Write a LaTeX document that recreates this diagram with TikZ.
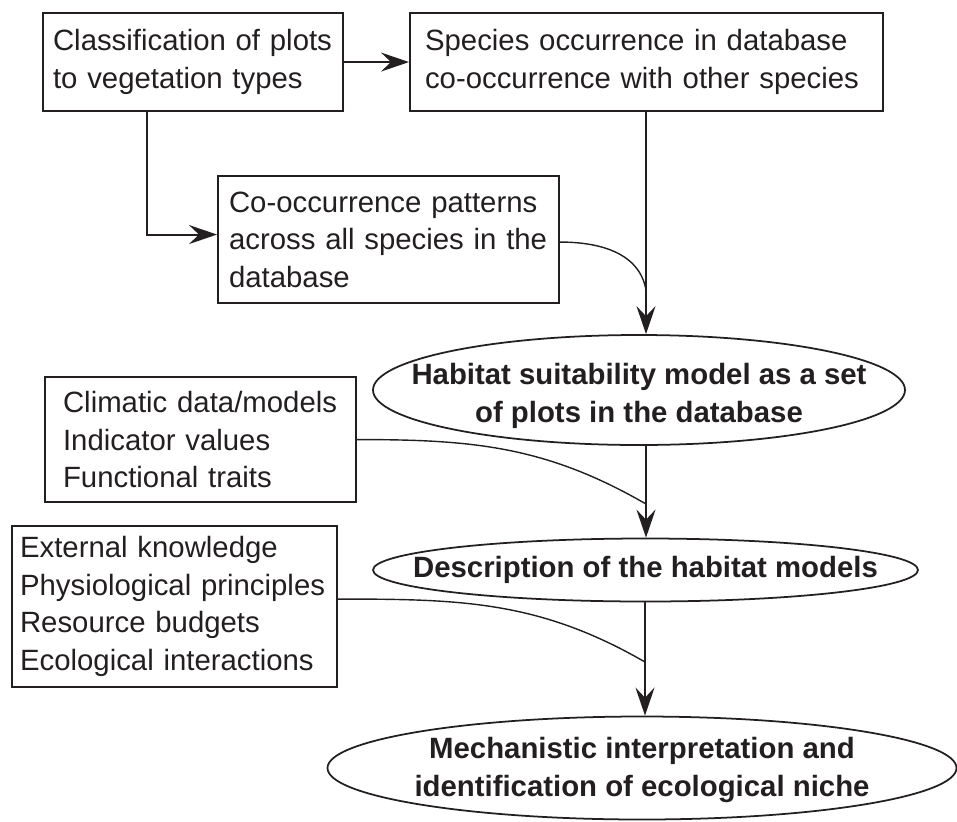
\documentclass[tikz,border=0pt]{standalone}
\usepackage{fontspec}
\setmainfont{Liberation Sans}
\usetikzlibrary{shapes.geometric, arrows.meta, positioning}
\definecolor{inkgray}{HTML}{231F20}

\tikzset{
  infobox/.style={draw=inkgray, line width=1.2pt, anchor=north west, align=left,
    font=\fontsize{16.7pt}{21.4pt}\selectfont, text=inkgray, inner ysep=0pt},
  modelell/.style={draw=inkgray, ellipse, line width=1pt, inner sep=0pt},
  modeltext/.style={align=center, inner sep=0pt, text=inkgray,
    font=\fontsize{16.7pt}{21.4pt}\selectfont\bfseries},
  flowarrow/.style={draw=inkgray, line width=1.2pt, -{Stealth[length=0.56cm, width=0.38cm, inset=0.2cm]}},
  feedline/.style={draw=inkgray, line width=0.8pt}
}

\begin{document}
\begin{tikzpicture}
\useasboundingbox (0,0) rectangle (19.14,-16.42);

% Input boxes
\node[infobox, inner xsep=0.2cm, text width=5.6cm, minimum height=1.96cm] (classif) at (0.84,-0.24)
  {Classification of plots\\to vegetation types};
\node[infobox, inner xsep=0.3cm, text width=8.86cm, minimum height=1.96cm] (occur) at (8.18,-0.24)
  {Species occurrence in database\\co-occurrence with other species};
\node[infobox, inner xsep=0.22cm, text width=6.38cm, minimum height=2.54cm] (cooc) at (4.34,-3.5)
  {Co-occurrence patterns\\across all species in the\\database};
\node[infobox, inner xsep=0.36cm, text width=5.5cm, minimum height=2.5cm] (climate) at (0.88,-7.52)
  {Climatic data/models\\Indicator values\\Functional traits};
\node[infobox, inner xsep=0.16cm, text width=6.18cm, minimum height=3.22cm] (external) at (0.22,-10.5)
  {External knowledge\\Physiological principles\\Resource budgets\\Ecological interactions};

% Model stages
\node[modelell, minimum width=10.64cm, minimum height=2.2cm] (habitat) at (12.78,-7.8) {};
\node[modeltext] (habitat-txt) at (12.78,-7.92) {Habitat suitability model as a set\\of plots in the database};
\node[modelell, minimum width=10.9cm, minimum height=1.26cm] (descr) at (12.91,-11.4) {};
\node[modeltext] (descr-txt) at (descr) {Description of the habitat models};
\node[modelell, minimum width=12.58cm, minimum height=2.06cm] (mech) at (12.84,-15.36) {};
\node[modeltext] (mech-txt) at (12.84,-15.4) {Mechanistic interpretation and\\identification of ecological niche};

% Junctions on the vertical arrows
\coordinate (join1) at (12.92,-5.8);
\coordinate (join2) at (12.92,-10.08);
\coordinate (join3) at (12.9,-13.24);

% Arrows
\draw[flowarrow] (classif) -- (occur);
\draw[flowarrow] ([xshift=-0.92cm]classif.south) |- ([yshift=0.1cm]cooc.west);
\draw[flowarrow] (occur.south -| join1) -- (join1 |- habitat.north);
\draw[flowarrow] (habitat.south -| join2) -- (join2 |- descr.north);
\draw[flowarrow] (descr.south -| join3) -- (join3 |- mech.north);

% Curved feeds
\draw[feedline] ([yshift=-0.05cm]cooc.east) to[out=0, in=100] (join1);
\draw[feedline] (climate.east) to[out=0, in=150] (join2);
\draw[feedline] ([yshift=0.15cm]external.east) to[out=0, in=150] (join3);
\end{tikzpicture}
\end{document}
